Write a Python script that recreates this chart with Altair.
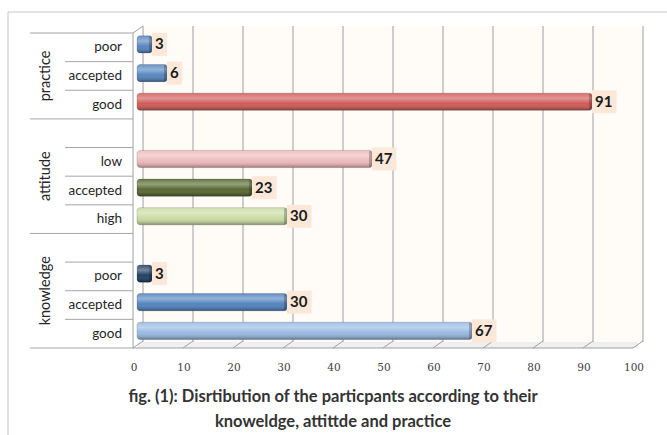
import altair as alt
import pandas as pd

# ---------------- data ----------------
groups = ["practice", "attitude", "knowledge"]
levels = {
    "practice": ["poor", "accepted", "good"],
    "attitude": ["low", "accepted", "high"],
    "knowledge": ["poor", "accepted", "good"],
}
values = {
    "practice": [3, 6, 91],
    "attitude": [47, 23, 30],
    "knowledge": [3, 30, 67],
}
bar_colors = {
    "practice": ["#4F81BD", "#4F81BD", "#CF5451"],
    "attitude": ["#EDB7B9", "#4F6228", "#C6DA9E"],
    "knowledge": ["#17375E", "#4A7EBB", "#93B6E0"],
}
x_ticks = [0, 10, 20, 30, 40, 50, 60, 70, 80, 90, 100]
title_lines = [
    "fig. (1): Disrtibution of the particpants according to their",
    "knoweldge, attittde and practice",
]

# ------------- build tables (row order: Excel multi-level categories) -------------
bars, grp, full_sep, short_sep = [], [], [], []
row = 0
for gi, g in enumerate(groups):
    start = row
    full_sep.append(start)
    if gi > 0:
        row += 1  # empty category row before the group
        short_sep.append(row)
    for j, lv in enumerate(levels[g]):
        if j > 0:
            short_sep.append(row)
        bars.append(dict(group=g, level=lv, value=values[g][j],
                         color=bar_colors[g][j], row=row))
        row += 1
    grp.append(dict(group=g, mid=(start + row) / 2))
full_sep.append(row)
n_rows = row

bars_df = pd.DataFrame(bars)
grp_df = pd.DataFrame(grp)
full_df = pd.DataFrame({"b": full_sep})
short_df = pd.DataFrame({"b": short_sep})
ticks_df = pd.DataFrame({"t": x_ticks})
title_df = pd.DataFrame({"line": title_lines, "k": list(range(len(title_lines)))})

W, H = 500, 315
xs = alt.Scale(domain=[0, 100], nice=False, zero=False)
ys = alt.Scale(domain=[0, n_rows], reverse=True, nice=False, zero=False)
FONT = "Lato"

# single-row helper with axis extent fields
span = alt.Chart(ticks_df).transform_filter("datum.t == 0").transform_calculate(
    lo=f"{x_ticks[0]}", hi=f"{x_ticks[-1]}"
)

# outer frame
frame = span.mark_rect(fill="transparent", stroke="#C4C4C4", strokeWidth=1, clip=False).encode(
    x=alt.value(-129), x2=alt.value(540), y=alt.value(-21), y2=alt.value(420)
)

# back wall and floor
wall = span.mark_rect(fill="#FFFBF7", xOffset=6, x2Offset=6).encode(
    x=alt.X("lo:Q", scale=xs, axis=None), x2="hi:Q", y=alt.value(-7), y2=alt.value(309)
)
floor = span.mark_rect(fill="#EFEFEF", xOffset=1, x2Offset=1).encode(
    x=alt.X("lo:Q", scale=xs, axis=None), x2="hi:Q", y=alt.value(309), y2=alt.value(315)
)

grid = alt.Chart(ticks_df).mark_rule(color="#A0A0A0", strokeWidth=1, xOffset=6).encode(
    x=alt.X("t:Q", scale=xs, axis=None),
    y=alt.value(-7), y2=alt.value(309),
)

floor_ticks = alt.Chart(ticks_df).mark_rule(color="#A0A0A0", strokeWidth=1, xOffset=-4, x2Offset=6).encode(
    x=alt.X("t:Q", scale=xs, axis=None), x2="t:Q", y=alt.value(315), y2=alt.value(308),
)

tick_labels = alt.Chart(ticks_df).transform_calculate(ty=f"{n_rows} + 0.7").mark_text(
    align="center", baseline="middle", font="DejaVu Serif", fontSize=10.5, color="#404040", dx=-3
).encode(
    x=alt.X("t:Q", scale=xs, axis=None),
    y=alt.Y("ty:Q", scale=ys, axis=None),
    text="t:Q",
)

front_axis = span.mark_rule(color="#A0A0A0", strokeWidth=1, xOffset=-4, x2Offset=-4).encode(
    x=alt.X("lo:Q", scale=xs, axis=None), x2="hi:Q", y=alt.value(315)
)
left_axis = span.mark_rule(color="#A0A0A0", strokeWidth=1).encode(
    x=alt.value(-4), y=alt.value(0), y2=alt.value(315)
)
left_diag = span.mark_rule(color="#A0A0A0", strokeWidth=1).encode(
    x=alt.value(-4), x2=alt.value(6), y=alt.value(0), y2=alt.value(-7)
)

sep_full = alt.Chart(full_df).mark_rule(color="#A6A6A6", strokeWidth=1).encode(
    y=alt.Y("b:Q", scale=ys, axis=None), x=alt.value(-107), x2=alt.value(-4)
)
sep_short = alt.Chart(short_df).mark_rule(color="#A6A6A6", strokeWidth=1).encode(
    y=alt.Y("b:Q", scale=ys, axis=None), x=alt.value(-72), x2=alt.value(-4)
)

bar_base = alt.Chart(bars_df).transform_calculate(
    top="datum.row + 0.1", bot="datum.row + 0.7", lab="datum.row + 0.4",
    mid="datum.row + 0.5", zero="0",
    bx2="datum.value + (datum.value < 10 ? 3.0 : 4.9)",
    btop="datum.row + 0.0", bbot="datum.row + 0.8",
    capx="datum.value - 0.6",
)

bar_fill = bar_base.mark_rect(cornerRadius=3).encode(
    x=alt.X("zero:Q", scale=xs, axis=None), x2="value:Q",
    y=alt.Y("top:Q", scale=ys, axis=None), y2="bot:Q",
    color=alt.Color("color:N", scale=None),
)

shade = alt.Gradient(
    gradient="linear", x1=0, x2=0, y1=0, y2=1,
    stops=[
        alt.GradientStop(offset=0, color="rgba(255,255,255,0.15)"),
        alt.GradientStop(offset=0.3, color="rgba(255,255,255,0.40)"),
        alt.GradientStop(offset=0.6, color="rgba(255,255,255,0.05)"),
        alt.GradientStop(offset=1, color="rgba(0,0,0,0.35)"),
    ],
)
bar_shade = bar_base.mark_rect(cornerRadius=3, color=shade, stroke="rgba(0,0,0,0.25)", strokeWidth=0.6).encode(
    x=alt.X("zero:Q", scale=xs, axis=None), x2="value:Q",
    y=alt.Y("top:Q", scale=ys, axis=None), y2="bot:Q",
)
bar_cap = bar_base.mark_rect(cornerRadius=2, color="rgba(0,0,0,0.22)").encode(
    x=alt.X("capx:Q", scale=xs, axis=None), x2="value:Q",
    y=alt.Y("top:Q", scale=ys, axis=None), y2="bot:Q",
)

label_box = bar_base.mark_rect(color="#FCE8D8").encode(
    x=alt.X("value:Q", scale=xs, axis=None), x2="bx2:Q",
    y=alt.Y("btop:Q", scale=ys, axis=None), y2="bbot:Q",
)
label_text = bar_base.mark_text(align="left", baseline="middle", dx=3, font=FONT, fontSize=15,
                                fontWeight="bold", color="#1A1A1A").encode(
    x=alt.X("value:Q", scale=xs, axis=None),
    y=alt.Y("lab:Q", scale=ys, axis=None),
    text="value:Q",
)

row_labels = bar_base.mark_text(align="right", baseline="middle", font=FONT, fontSize=13.5,
                                color="#262626").encode(
    x=alt.value(-15), y=alt.Y("mid:Q", scale=ys, axis=None), text="level:N"
)
group_labels = alt.Chart(grp_df).mark_text(align="center", baseline="middle", angle=270, font=FONT,
                                           fontSize=14.5, color="#262626").encode(
    x=alt.value(-91), y=alt.Y("mid:Q", scale=ys, axis=None), text="group:N"
)

title = alt.Chart(title_df).transform_calculate(
    ty=f"{n_rows} + 1.7 + datum.k * 0.875"
).mark_text(align="center", baseline="middle", font=FONT, fontSize=16.5,
            fontWeight="bold", color="#333333").encode(
    x=alt.value(196), y=alt.Y("ty:Q", scale=ys, axis=None), text="line:N",
)

chart = alt.layer(
    frame, wall, floor, grid, floor_ticks, tick_labels, front_axis, left_axis, left_diag,
    sep_full, sep_short, bar_fill, bar_shade, bar_cap, label_box, label_text,
    row_labels, group_labels, title,
).properties(
    width=W, height=H,
    autosize=alt.AutoSizeParams(type="none"),
    padding={"left": 137, "top": 33, "right": 30, "bottom": 87},
    background="white",
).configure_view(strokeWidth=0)

chart.save("out.html", embed_options={"renderer": "svg", "actions": False})
